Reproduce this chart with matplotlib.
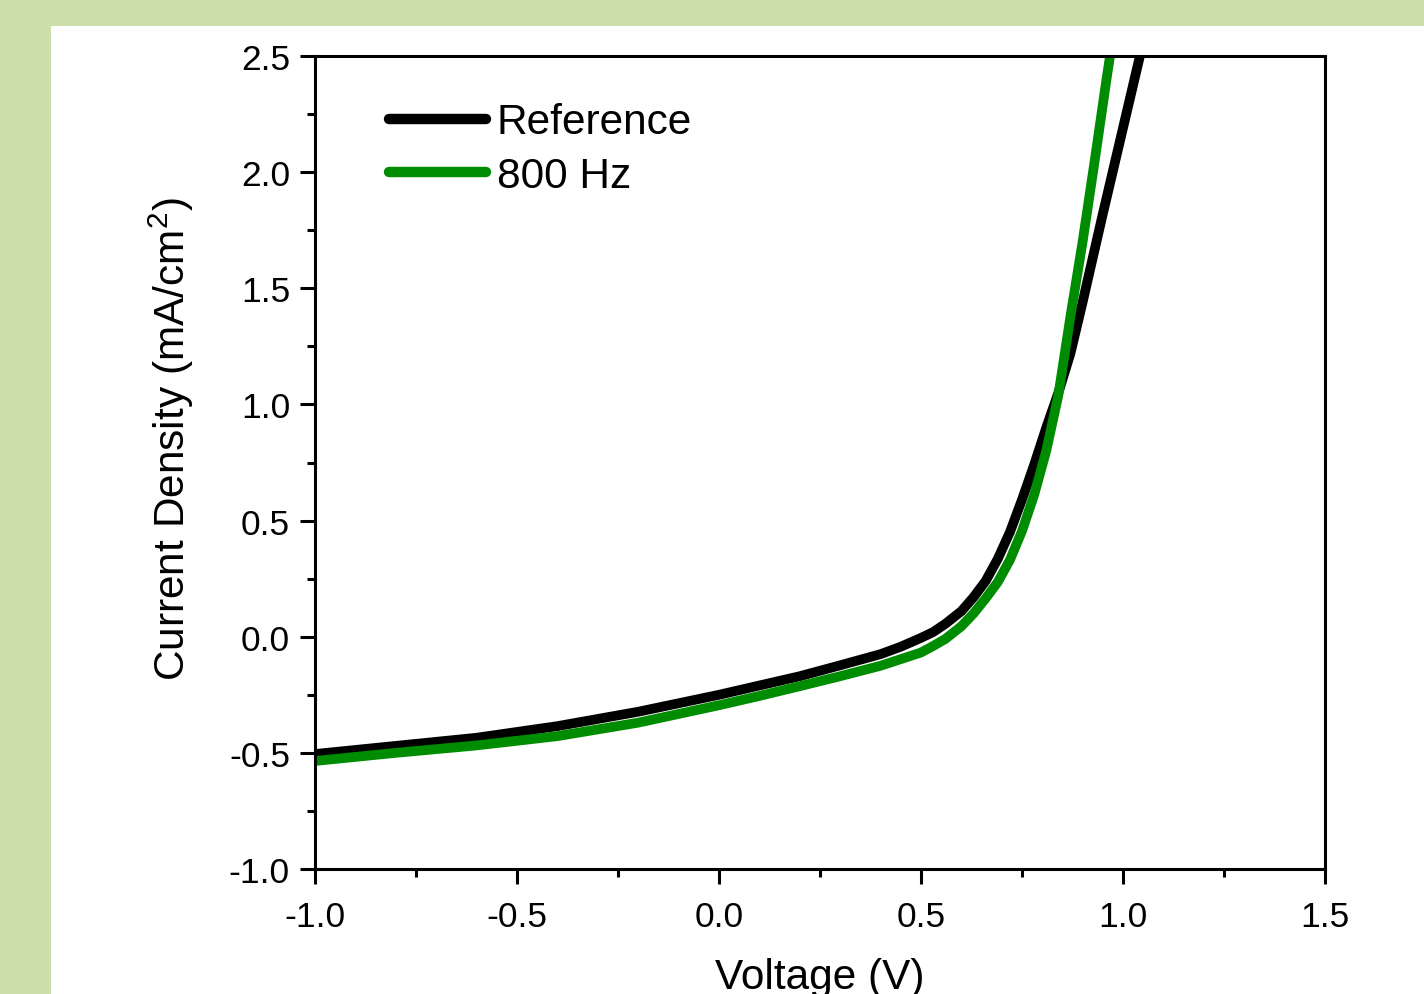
import matplotlib
matplotlib.use("Agg")
import matplotlib.pyplot as plt
from matplotlib.patches import Rectangle

plt.rcParams['font.family'] = ['Liberation Sans', 'DejaVu Sans']
plt.rcParams['mathtext.fontset'] = 'custom'
plt.rcParams['mathtext.rm'] = 'Liberation Sans'
plt.rcParams['mathtext.default'] = 'regular'

# J-V data (voltage in V, current density in mA/cm^2)
voltage_ref = [-1.0, -0.8, -0.6, -0.4, -0.2, 0.0, 0.1, 0.2, 0.3, 0.4, 0.45, 0.5,
               0.53, 0.56, 0.6, 0.63, 0.66, 0.69, 0.72, 0.75, 0.78, 0.81, 0.84,
               0.87, 0.9, 0.95, 1.0, 1.05]
current_ref = [-0.505, -0.47, -0.435, -0.385, -0.323, -0.25, -0.21, -0.17, -0.123,
               -0.075, -0.043, -0.005, 0.02, 0.055, 0.11, 0.17, 0.24, 0.335, 0.45,
               0.59, 0.74, 0.9, 1.05, 1.22, 1.44, 1.82, 2.19, 2.56]

voltage_800 = [-1.0, -0.8, -0.6, -0.4, -0.2, 0.0, 0.1, 0.2, 0.3, 0.4, 0.5, 0.53,
               0.56, 0.6, 0.63, 0.66, 0.69, 0.72, 0.75, 0.78, 0.81, 0.84, 0.87,
               0.9, 0.93, 0.96, 0.975]
current_800 = [-0.535, -0.5, -0.468, -0.428, -0.37, -0.295, -0.255, -0.213, -0.17,
               -0.125, -0.068, -0.04, -0.01, 0.045, 0.1, 0.165, 0.235, 0.33, 0.455,
               0.61, 0.8, 1.04, 1.38, 1.70, 2.05, 2.41, 2.58]

series_labels = ['Reference', '800 Hz']
series_colors = ['#000000', '#008c00']

x_ticks = [-1.0, -0.5, 0.0, 0.5, 1.0, 1.5]
y_ticks = [-1.0, -0.5, 0.0, 0.5, 1.0, 1.5, 2.0, 2.5]

W, H = 1424, 995
fig = plt.figure(figsize=(W / 100, H / 100), dpi=100)
fig.patch.set_facecolor('#cbdeac')
panel = Rectangle((51 / W, 0), 1 - 51 / W, 1 - 27 / H,
                  transform=fig.transFigure, facecolor='white',
                  edgecolor='none', zorder=-10)
fig.patches.append(panel)

ax = fig.add_axes([315 / W, 1 - 870 / H, (1325 - 315) / W, (870 - 57) / H])
ax.set_zorder(1)
ax.set_facecolor('white')

lw = 7
ax.plot(voltage_ref, current_ref, color=series_colors[0], lw=lw,
        label=series_labels[0], solid_capstyle='round', solid_joinstyle='round')
ax.plot(voltage_800, current_800, color=series_colors[1], lw=lw,
        label=series_labels[1], solid_capstyle='round', solid_joinstyle='round')

ax.set_xlim(-1.0, 1.5)
ax.set_ylim(-1.0, 2.5)
ax.set_xticks(x_ticks)
ax.set_yticks(y_ticks)
ax.set_xticklabels([f'{v:.1f}' for v in x_ticks])
ax.set_yticklabels([f'{v:.1f}' for v in y_ticks])
ax.set_xticks([-0.75, -0.25, 0.25, 0.75, 1.25], minor=True)
ax.set_yticks([-0.75, -0.25, 0.25, 0.75, 1.25, 1.75, 2.25], minor=True)

for s in ax.spines.values():
    s.set_linewidth(2.2)
ax.tick_params(which='major', direction='out', length=11, width=2.2,
               labelsize=25.5, pad=7, top=False, right=False)
ax.tick_params(axis='x', which='major', pad=11)
ax.tick_params(which='minor', direction='out', length=5.5, width=2.2,
               top=False, right=False)

ax.set_xlabel('Voltage (V)', fontsize=30.5)
ax.set_ylabel('Current Density (mA/cm$^2$)', fontsize=30.5)
ax.xaxis.set_label_coords(0.5, -0.108)
ax.yaxis.set_label_coords(-0.118, 0.53)

leg = ax.legend(loc='upper left', bbox_to_anchor=(0.073, 0.943), frameon=False,
                fontsize=30.5, handlelength=2.3, handletextpad=0.25,
                labelspacing=0.32, borderpad=0, borderaxespad=0)
for h in leg.get_lines():
    h.set_linewidth(7.5)
    h.set_solid_capstyle('round')

fig.savefig('out.png', dpi=100, facecolor=fig.get_facecolor())
